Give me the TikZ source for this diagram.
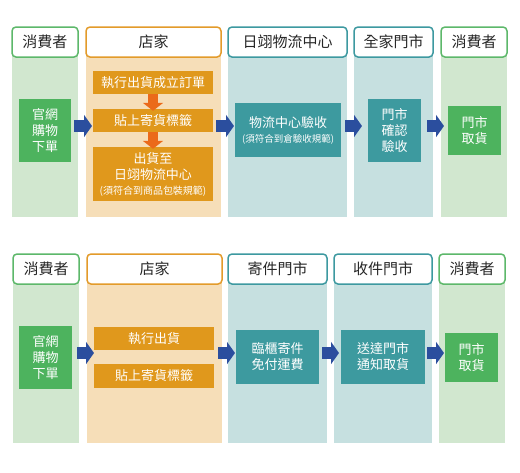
\documentclass[tikz,border=0pt]{standalone}
\usepackage{fontspec}
\setmainfont{Noto Sans CJK TC}
\usetikzlibrary{positioning}
\usetikzlibrary{arrows.meta}
\definecolor{grnline}{HTML}{5DB86A}
\definecolor{grnbg}{HTML}{D1E7CF}
\definecolor{grnbox}{HTML}{4DB35E}
\definecolor{orgline}{HTML}{E39B2A}
\definecolor{orgbg}{HTML}{F6DEB8}
\definecolor{orgbox}{HTML}{E0981C}
\definecolor{tealline}{HTML}{3D99A0}
\definecolor{tealbg}{HTML}{C6E0E0}
\definecolor{tealbox}{HTML}{3D9A9F}
\definecolor{downarr}{HTML}{EB6A1A}
\definecolor{bluearr}{HTML}{2B4E9E}
\tikzset{
    hdrg/.style = {rounded corners=4pt, line width=1.5pt, draw=grnline, fill=white, inner sep=0pt, minimum height=30pt, font=\fontsize{15}{18}\selectfont, text=black!85},
    hdro/.style = {hdrg, draw=orgline},
    hdrt/.style = {hdrg, draw=tealline},
    colg/.style = {fill=grnbg, inner sep=0pt},
    colo/.style = {fill=orgbg, inner sep=0pt},
    colt/.style = {fill=tealbg, inner sep=0pt},
    boxg/.style = {fill=grnbox, inner sep=0pt, align=center, text=white, font=\fontsize{13}{16}\selectfont},
    boxo/.style = {boxg, fill=orgbox},
    boxt/.style = {boxg, fill=tealbox},
    arrb/.style = {-{Triangle[width=22pt,length=8pt]}, line width=12pt, draw=bluearr},
    arro/.style = {-{Triangle[width=20pt,length=8pt]}, line width=10pt, draw=downarr, shorten >=-2pt}
}
\begin{document}
\begin{tikzpicture}[x=1pt, y=1pt]
\useasboundingbox[fill=white] (0,0) rectangle (520,-472);
% top flow
\node[colg, minimum width=66pt, minimum height=175pt] at (45.0, -129.5) (c1) {};
\node[colo, minimum width=135pt, minimum height=175pt] at (153.5, -129.5) (c2) {};
\node[colt, minimum width=119pt, minimum height=175pt] at (287.5, -129.5) (c3) {};
\node[colt, minimum width=79pt, minimum height=175pt] at (393.5, -129.5) (c4) {};
\node[colg, minimum width=66pt, minimum height=175pt] at (474.0, -129.5) (c5) {};
\node[hdrg, minimum width=66pt] at (45.0, -42.0) (h1) {消費者};
\node[hdro, minimum width=135pt] at (153.5, -42.0) (h2) {店家};
\node[hdrt, minimum width=119pt] at (287.5, -42.0) (h3) {日翊物流中心};
\node[hdrt, minimum width=79pt] at (393.5, -42.0) (h4) {全家門市};
\node[hdrg, minimum width=66pt] at (474.0, -42.0) (h5) {消費者};
%
\node[boxg, minimum width=52pt, minimum height=63pt] at (45.0, -130.5) (g1) {官網\\購物\\下單};
\node[boxo, minimum width=120pt, minimum height=23pt] at (153.0, -82.5) (o1) {執行出貨成立訂單};
\node[boxo, minimum width=120pt, minimum height=23pt] at (153.0, -120.5) (o2) {貼上寄貨標籤};
\node[boxo, minimum width=120pt, minimum height=54pt] at (153.0, -174.0) (o3) {出貨至\\日翊物流中心\\[-1pt]{\fontsize{10}{12}\selectfont (須符合到商品包裝規範)}};
\node[boxt, minimum width=106pt, minimum height=54pt] at (288.0, -130.0) (t1) {物流中心驗收\\[-1pt]{\fontsize{9.5}{12}\selectfont (須符合到倉驗收規範)}};
\node[boxt, minimum width=53pt, minimum height=63pt] at (394.5, -130.5) (t2) {門市\\確認\\驗收};
\node[boxg, minimum width=53pt, minimum height=49pt] at (474.5, -130.5) (g2) {門市\\取貨};
%
\coordinate (a1s) at (74, -126);
\coordinate (a1e) at (92, -126);
\coordinate (a2s) at (216, -126);
\coordinate (a2e) at (234, -126);
\coordinate (a3s) at (345, -126);
\coordinate (a3e) at (362, -126);
\coordinate (a4s) at (427, -126);
\coordinate (a4e) at (444, -126);
\draw[arrb] (a1s) -- (a1e);
\draw[arrb] (a2s) -- (a2e);
\draw[arrb] (a3s) -- (a3e);
\draw[arrb] (a4s) -- (a4e);
\draw[arro] (o1.south) -- (o2.north);
\draw[arro] (o2.south) -- (o3.north);
% bottom flow
\node[colg, minimum width=66pt, minimum height=174pt] at (46.0, -356.0) (d1) {};
\node[colo, minimum width=135pt, minimum height=174pt] at (154.5, -356.0) (d2) {};
\node[colt, minimum width=99pt, minimum height=174pt] at (277.5, -356.0) (d3) {};
\node[colt, minimum width=98pt, minimum height=174pt] at (383.0, -356.0) (d4) {};
\node[colg, minimum width=66pt, minimum height=174pt] at (472.0, -356.0) (d5) {};
\node[hdrg, minimum width=66pt] at (46.0, -269.0) (k1) {消費者};
\node[hdro, minimum width=135pt] at (154.5, -269.0) (k2) {店家};
\node[hdrt, minimum width=99pt] at (277.5, -269.0) (k3) {寄件門市};
\node[hdrt, minimum width=98pt] at (383.0, -269.0) (k4) {收件門市};
\node[hdrg, minimum width=66pt] at (472.0, -269.0) (k5) {消費者};
%
\node[boxg, minimum width=53pt, minimum height=63pt] at (45.5, -357.5) (g3) {官網\\購物\\下單};
\node[boxo, minimum width=120pt, minimum height=23pt] at (154.0, -338.5) (o4) {執行出貨};
\node[boxo, minimum width=120pt, minimum height=24pt] at (154.0, -376.0) (o5) {貼上寄貨標籤};
\node[boxt, minimum width=83pt, minimum height=54pt] at (277.5, -357.0) (t3) {臨櫃寄件\\免付運費};
\node[boxt, minimum width=84pt, minimum height=54pt] at (383.0, -357.0) (t4) {送達門市\\通知取貨};
\node[boxg, minimum width=53pt, minimum height=49pt] at (471.5, -357.5) (g4) {門市\\取貨};
%
\coordinate (b1s) at (77, -353);
\coordinate (b1e) at (94, -353);
\coordinate (b2s) at (218, -353);
\coordinate (b2e) at (235, -353);
\coordinate (b3s) at (322, -353);
\coordinate (b3e) at (339, -353);
\coordinate (b4s) at (427, -353);
\coordinate (b4e) at (444, -353);
\draw[arrb] (b1s) -- (b1e);
\draw[arrb] (b2s) -- (b2e);
\draw[arrb] (b3s) -- (b3e);
\draw[arrb] (b4s) -- (b4e);
\end{tikzpicture}
\end{document}
